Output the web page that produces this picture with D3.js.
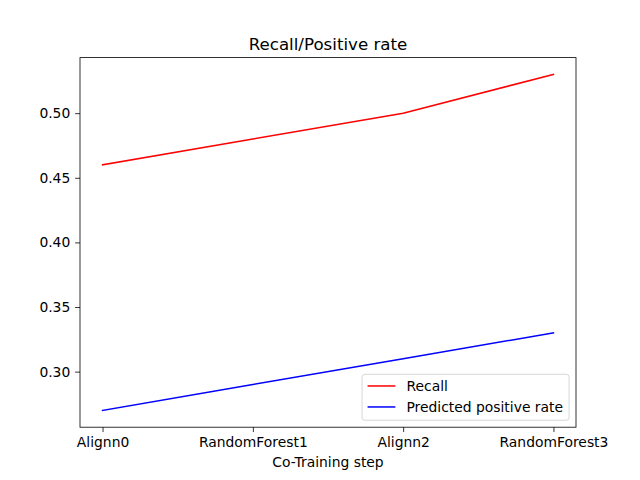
<!DOCTYPE html>
<html>
<head>
<meta charset="utf-8">
<script src="https://cdn.jsdelivr.net/npm/d3@7"></script>
<style>
  body { margin: 0; background: #fff; }
  text { font-family: "DejaVu Sans", sans-serif; fill: #000; }
</style>
</head>
<body>
<svg id="chart" width="640" height="480"></svg>
<script>
// chart data
const steps = ['Alignn0', 'RandomForest1', 'Alignn2', 'RandomForest3'];
const recall = [0.46, 0.48, 0.50, 0.53];
const positiveRate = [0.27, 0.29, 0.31, 0.33];
const yTicks = [0.30, 0.35, 0.40, 0.45, 0.50];

const series = [
  { name: 'Recall', values: recall, color: '#ff0000' },
  { name: 'Predicted positive rate', values: positiveRate, color: '#0000ff' }
];

const svg = d3.select('#chart');
const axLeft = 80, axRight = 576, axTop = 57.6, axBottom = 427.2;
const fs = 13.89; // 10pt at 100 dpi

// matplotlib-style 5% margins
const allVals = recall.concat(positiveRate);
const yMin = d3.min(allVals), yMax = d3.max(allVals);
const pad = (yMax - yMin) * 0.05;
const x = d3.scaleLinear().domain([-0.15, steps.length - 1 + 0.15]).range([axLeft, axRight]);
const y = d3.scaleLinear().domain([yMin - pad, yMax + pad]).range([axBottom, axTop]);

// axes
const xAxis = d3.axisBottom(x)
  .tickValues(d3.range(steps.length))
  .tickFormat(i => steps[i])
  .tickSizeInner(4.86).tickSizeOuter(0).tickPadding(4.86);
const yAxis = d3.axisLeft(y)
  .tickValues(yTicks)
  .tickFormat(d3.format('.2f'))
  .tickSizeInner(4.86).tickSizeOuter(0).tickPadding(4.86);

const gx = svg.append('g').attr('transform', `translate(0,${axBottom})`).call(xAxis);
const gy = svg.append('g').attr('transform', `translate(${axLeft},0)`).call(yAxis);
[gx, gy].forEach(g => {
  g.select('.domain').remove();
  g.selectAll('text').style('font-size', fs + 'px').style('font-family', '"DejaVu Sans", sans-serif').attr('fill', '#000');
  g.selectAll('line').attr('stroke', '#000').attr('stroke-width', 0.8);
});

// lines
const line = d3.line().x((d, i) => x(i)).y(d => y(d));
series.forEach(s => {
  svg.append('path')
    .datum(s.values)
    .attr('d', line)
    .attr('fill', 'none')
    .attr('stroke', s.color)
    .attr('stroke-width', 1.5)
    .attr('stroke-linecap', 'square');
});

// frame
svg.append('rect')
  .attr('x', axLeft).attr('y', axTop)
  .attr('width', axRight - axLeft).attr('height', axBottom - axTop)
  .attr('fill', 'none').attr('stroke', '#000').attr('stroke-width', 0.8);

// title and label
svg.append('text')
  .attr('x', (axLeft + axRight) / 2).attr('y', axTop - 8)
  .attr('text-anchor', 'middle')
  .style('font-size', '16.67px')
  .text('Recall/Positive rate');

svg.append('text')
  .attr('x', (axLeft + axRight) / 2).attr('y', 467)
  .attr('text-anchor', 'middle')
  .style('font-size', fs + 'px')
  .text('Co-Training step');

// legend (lower right)
const lgW = 207, lgH = 46;
const lgX = axRight - 6.94 - lgW, lgY = axBottom - 6.94 - lgH;
const legend = svg.append('g').attr('transform', `translate(${lgX},${lgY})`);
legend.append('rect')
  .attr('width', lgW).attr('height', lgH)
  .attr('rx', 2.8)
  .attr('fill', '#fff').attr('fill-opacity', 0.8)
  .attr('stroke', '#cccccc').attr('stroke-width', 0.8);
const items = legend.selectAll('g.item')
  .data(series)
  .enter()
  .append('g')
  .attr('transform', (d, i) => `translate(0,${11.7 + i * 21})`);
items.append('line')
  .attr('x1', 5.5).attr('x2', 33.3)
  .attr('stroke', d => d.color).attr('stroke-width', 1.5);
items.append('text')
  .attr('x', 44.4).attr('dy', '0.35em')
  .style('font-size', fs + 'px')
  .text(d => d.name);
</script>
</body>
</html>
